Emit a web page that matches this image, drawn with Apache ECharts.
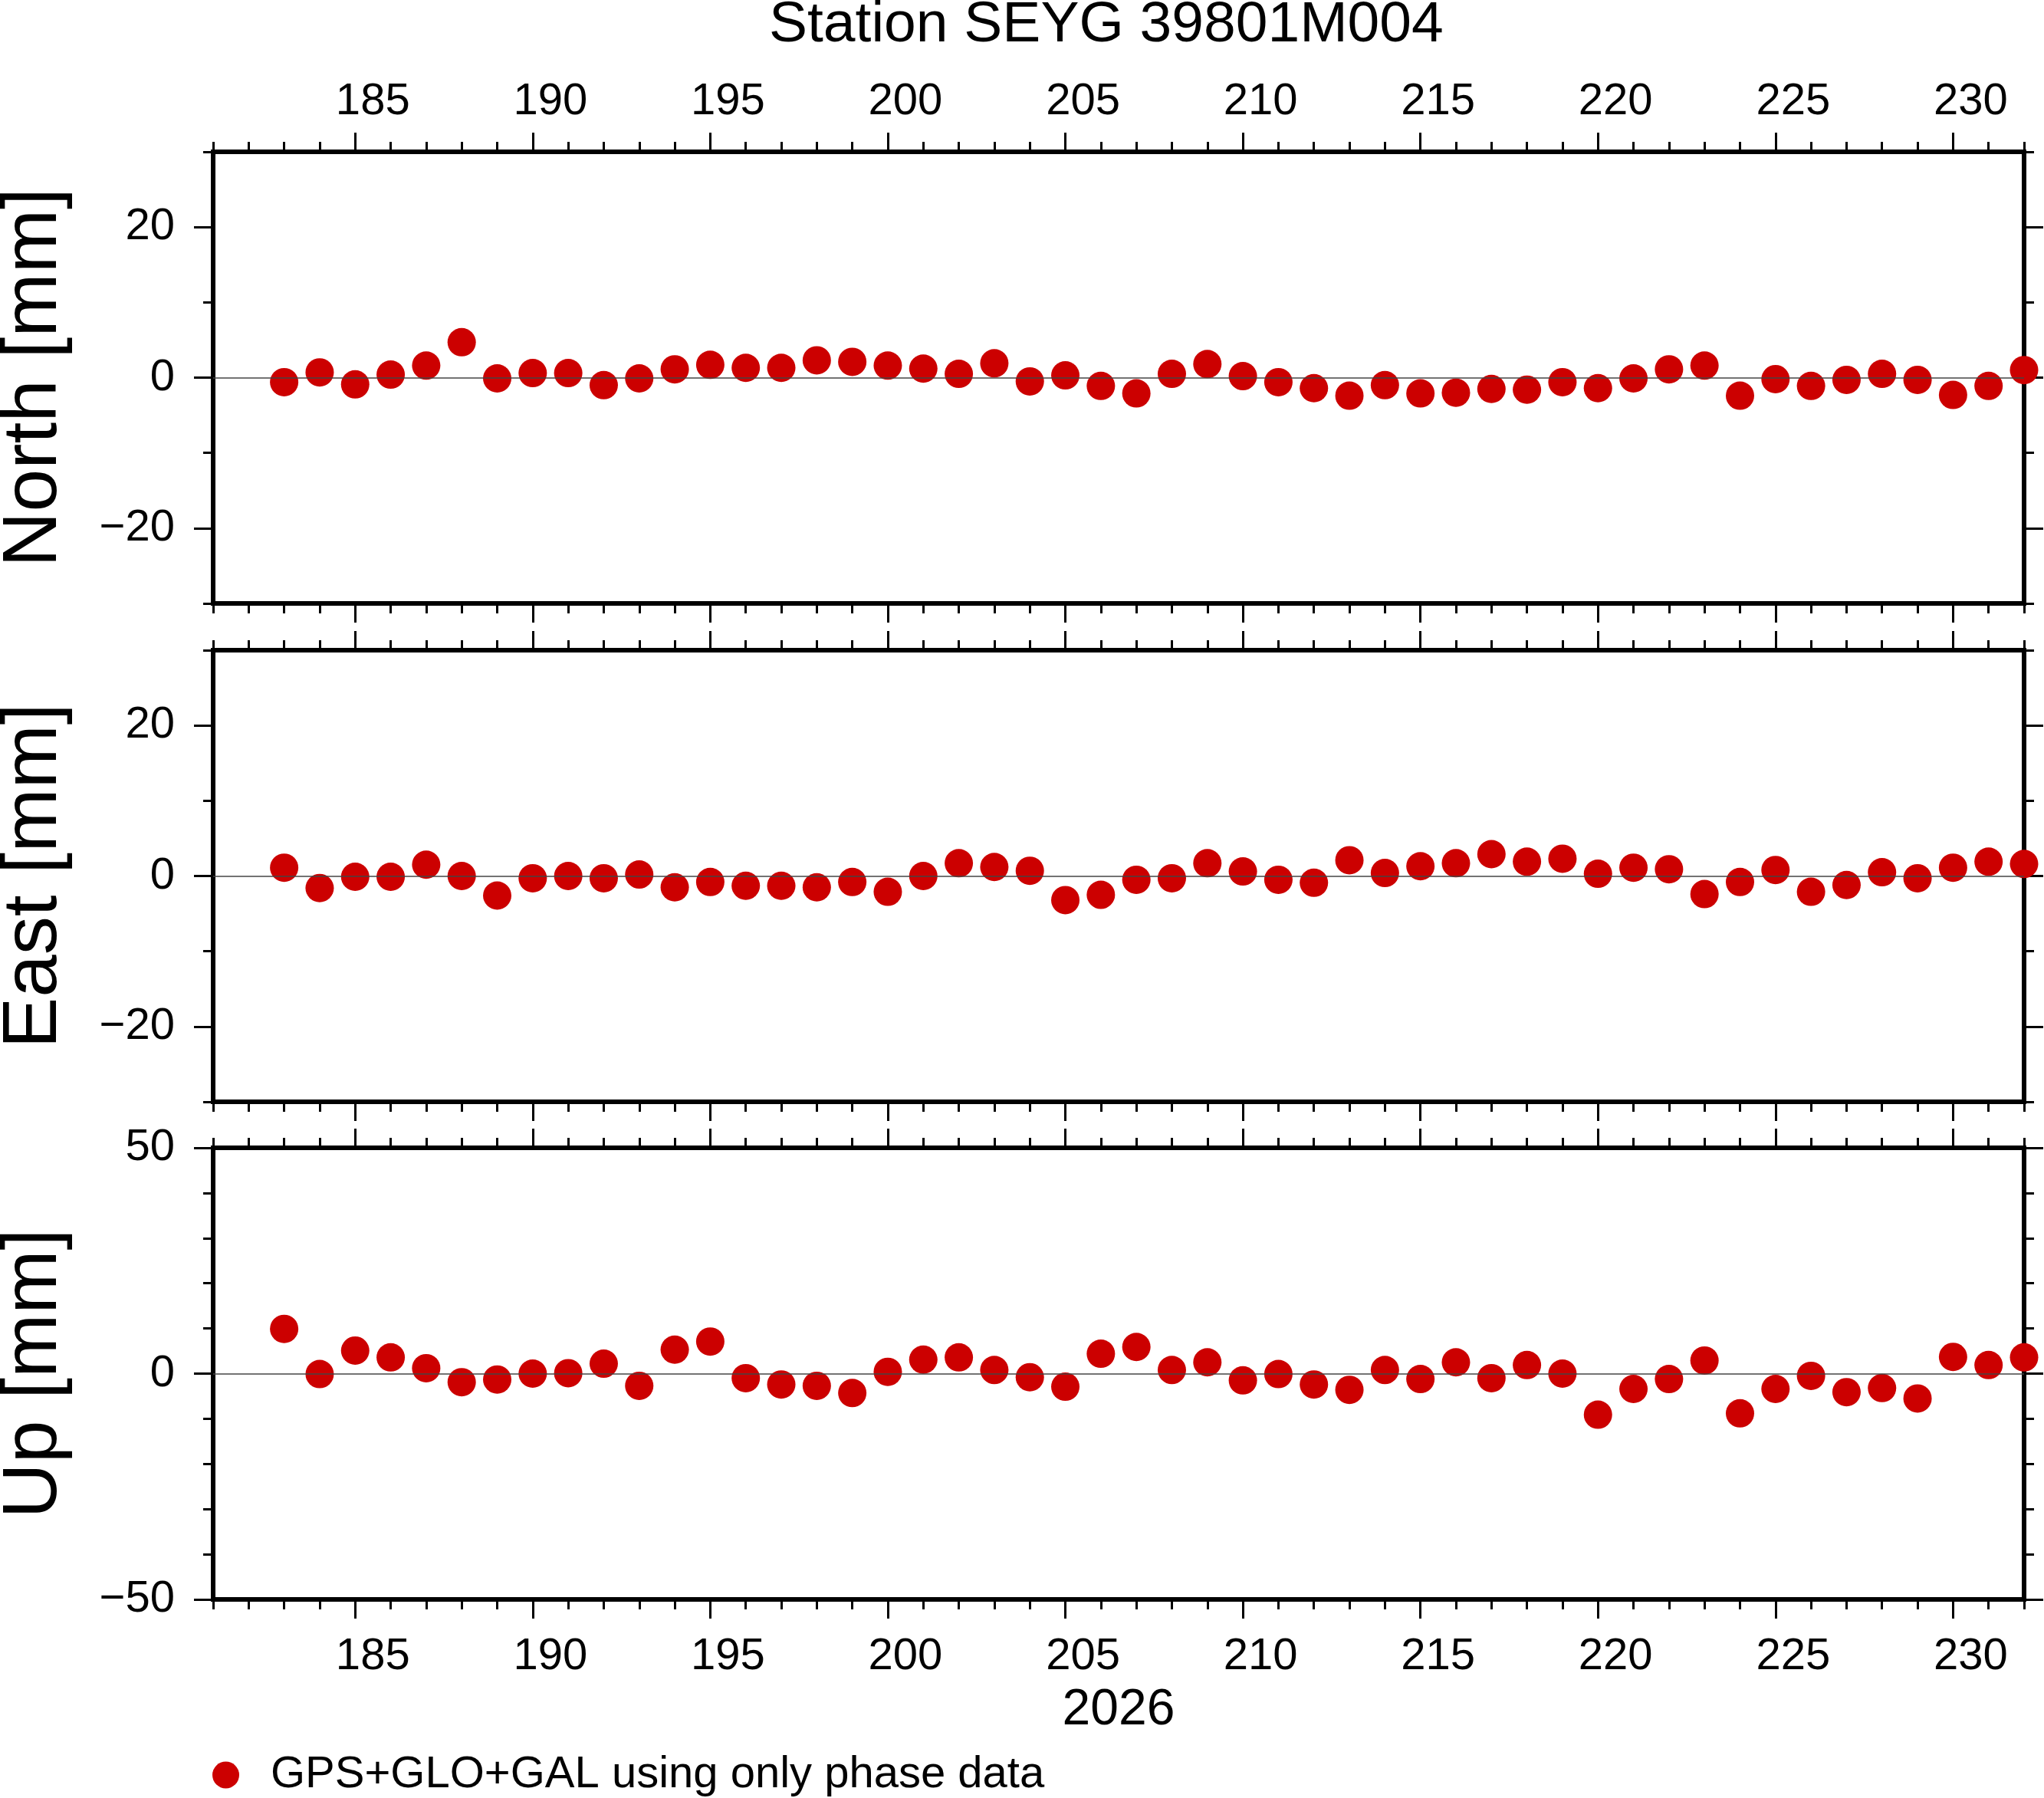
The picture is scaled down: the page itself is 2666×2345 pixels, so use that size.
<!DOCTYPE html>
<html>
<head>
<meta charset="utf-8">
<title>Station SEYG 39801M004</title>
<script src="https://cdn.jsdelivr.net/npm/echarts@6/dist/echarts.min.js"></script>
<style>
  html, body { margin: 0; padding: 0; background: #fff; }
  #chart { width: 2666px; height: 2345px; }
</style>
</head>
<body>
<div id="chart"></div>
<script>
// Daily coordinate residuals, day of year 2026
const days = [183, 184, 185, 186, 187, 188, 189, 190, 191, 192,
  193, 194, 195, 196, 197, 198, 199, 200, 201, 202,
  203, 204, 205, 206, 207, 208, 209, 210, 211, 212,
  213, 214, 215, 216, 217, 218, 219, 220, 221, 222,
  223, 224, 225, 226, 227, 228, 229, 230, 231, 232]

const north = [-0.6, 0.7, -0.9, 0.4, 1.6, 4.7, -0.1, 0.6, 0.6, -1.0,
  -0.1, 1.1, 1.7, 1.3, 1.3, 2.3, 2.1, 1.6, 1.2, 0.5,
  1.9, -0.5, 0.3, -1.1, -2.1, 0.5, 1.8, 0.2, -0.6, -1.4,
  -2.4, -1.0, -2.1, -2.0, -1.5, -1.6, -0.6, -1.4, -0.1, 1.1,
  1.6, -2.4, -0.2, -1.1, -0.3, 0.5, -0.3, -2.3, -1.1, 1.0]

const east = [1.1, -1.6, -0.1, -0.1, 1.5, 0.0, -2.6, -0.3, 0.0, -0.3,
  0.2, -1.5, -0.8, -1.3, -1.3, -1.5, -0.8, -2.1, 0.0, 1.7,
  1.2, 0.7, -3.2, -2.5, -0.5, -0.3, 1.7, 0.6, -0.5, -0.9,
  2.1, 0.4, 1.3, 1.7, 2.9, 1.9, 2.3, 0.3, 1.1, 0.9,
  -2.4, -0.8, 0.8, -2.1, -1.2, 0.5, -0.3, 1.1, 1.9, 1.6]

const up = [9.9, -0.1, 5.1, 3.6, 1.2, -1.9, -1.3, 0.0, 0.1, 2.2,
  -2.7, 5.3, 7.1, -1.0, -2.4, -2.7, -4.3, 0.4, 3.1, 3.6,
  0.8, -0.8, -2.9, 4.4, 5.9, 0.8, 2.5, -1.5, -0.1, -2.4,
  -3.6, 0.8, -1.2, 2.5, -1.0, 1.9, 0.0, -9.1, -3.4, -1.2,
  2.9, -8.8, -3.4, -0.5, -4.1, -3.2, -5.5, 3.7, 1.9, 3.6]

// tick labels
const dayTicks = [185, 190, 195, 200, 205, 210, 215, 220, 225, 230]
const horizTicks = [-20, 0, 20]
const upTicks = [-50, 0, 50]

const title = 'Station SEYG 39801M004'
const yearLabel = '2026'
const solution = 'GPS+GLO+GAL using only phase data'

const FONT = '"Liberation Sans", Helvetica, Arial, sans-serif'
const RED = '#cc0000'
const tickLine = { color: '#000', width: 3 }
const minus = v => String(v).replace('-', '\u2212')

const panels = [
  { name: 'North [mm]', values: north, min: -30, max: 30, ticks: horizTicks },
  { name: 'East [mm]', values: east, min: -30, max: 30, ticks: horizTicks },
  { name: 'Up [mm]', values: up, min: -50, max: 50, ticks: upTicks },
]
const tops = [198, 848, 1497]

const grids = [], xAxis = [], yAxis = [], series = []

panels.forEach((p, g) => {
  const first = g === 0, last = g === panels.length - 1
  grids.push({
    left: 278, right: 26, top: tops[g], height: 589,
    show: true, borderColor: '#000', borderWidth: 6, backgroundColor: 'transparent',
    outerBoundsMode: 'none',
  })

  const xBase = {
    type: 'value', gridIndex: g, min: 181, max: 232,
    axisLine: { show: false, onZero: false }, splitLine: { show: false },
  }
  // day labels sit in the middle of the day, half a day right of the tick
  const dayLabel = margin => ({
    show: true, customValues: dayTicks, margin, padding: [0, 0, 0, 46],
    fontSize: 58, fontFamily: FONT, color: '#000',
  })
  xAxis.push(
    { ...xBase, position: 'bottom',
      axisTick: { customValues: dayTicks, length: 25, lineStyle: tickLine },
      axisLabel: last ? dayLabel(46) : { show: false },
      name: last ? yearLabel : '', nameLocation: 'middle', nameGap: 112,
      nameTextStyle: { fontSize: 66, fontFamily: FONT, color: '#000' } },
    { ...xBase, position: 'bottom', interval: 1,
      axisTick: { length: 13, lineStyle: tickLine }, axisLabel: { show: false } },
    { ...xBase, position: 'top',
      axisTick: { customValues: dayTicks, length: 25, lineStyle: tickLine },
      axisLabel: first ? dayLabel(36) : { show: false } },
    { ...xBase, position: 'top', interval: 1,
      axisTick: { length: 13, lineStyle: tickLine }, axisLabel: { show: false } },
  )

  const yBase = {
    type: 'value', gridIndex: g, min: p.min, max: p.max,
    axisLine: { show: false, onZero: false }, splitLine: { show: false },
  }
  yAxis.push(
    { ...yBase, position: 'left',
      axisTick: { customValues: p.ticks, length: 25, lineStyle: tickLine },
      axisLabel: { customValues: p.ticks, margin: 50, formatter: minus,
        fontSize: 58, fontFamily: FONT, color: '#000' },
      name: p.name, nameLocation: 'middle', nameGap: 183,
      nameTextStyle: { fontSize: 100, fontFamily: FONT, color: '#000' } },
    { ...yBase, position: 'left', interval: 10,
      axisTick: { length: 13, lineStyle: tickLine }, axisLabel: { show: false } },
    { ...yBase, position: 'right',
      axisTick: { customValues: p.ticks, length: 25, lineStyle: tickLine },
      axisLabel: { show: false } },
    { ...yBase, position: 'right', interval: 10,
      axisTick: { length: 13, lineStyle: tickLine }, axisLabel: { show: false } },
  )

  series.push({
    name: solution, type: 'scatter', xAxisIndex: g * 4, yAxisIndex: g * 4,
    data: days.map((d, i) => [d, p.values[i]]),
    symbol: 'circle', symbolSize: 37, clip: false,
    itemStyle: { color: RED, opacity: 1 },
    markLine: {
      silent: true, symbol: 'none', label: { show: false },
      lineStyle: { color: '#444', width: 1.5, type: 'solid' },
      data: [{ yAxis: 0 }],
    },
    z: 3,
  })
})

const chart = echarts.init(document.getElementById('chart'), null, { renderer: 'canvas' })
chart.setOption({
  animation: false,
  backgroundColor: '#fff',
  title: {
    text: title, left: 998, top: -9,
    textStyle: { fontSize: 75, fontWeight: 'normal', fontFamily: FONT, color: '#000' },
  },
  legend: {
    data: [solution], left: 272, top: 2281,
    icon: 'circle', itemWidth: 35, itemHeight: 35,
    textStyle: { fontSize: 58, fontFamily: FONT, color: '#000', padding: [0, 0, 0, 36] },
  },
  grid: grids,
  xAxis,
  yAxis,
  series,
})
</script>
</body>
</html>
